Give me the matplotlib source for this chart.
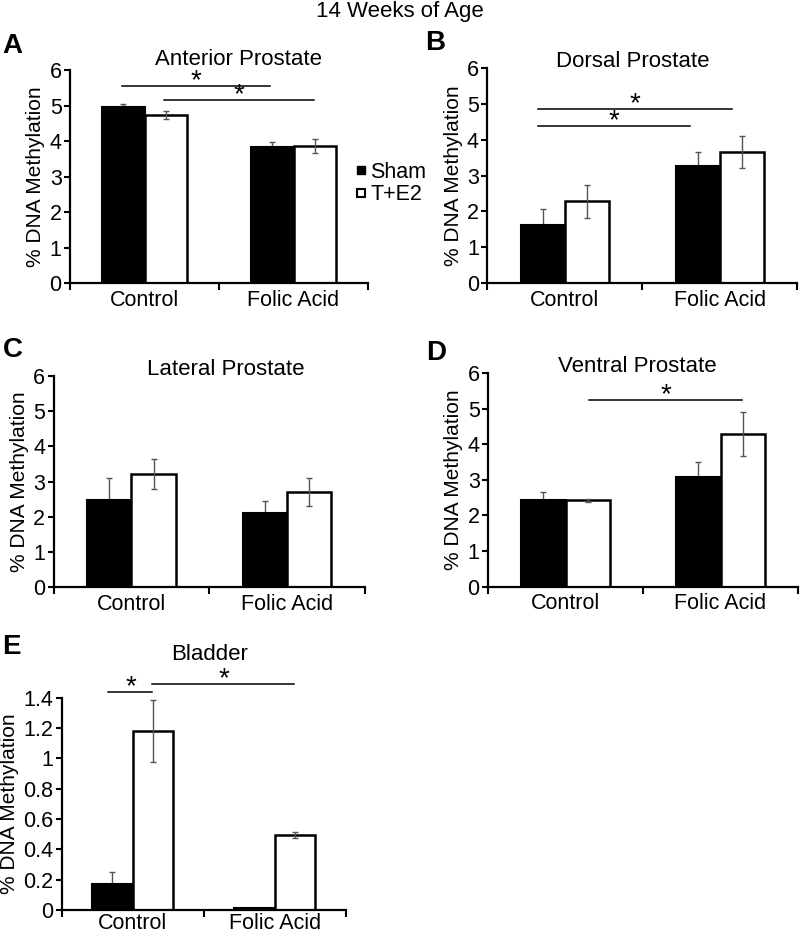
import matplotlib
matplotlib.use("Agg")
import matplotlib.pyplot as plt
from matplotlib.lines import Line2D

plt.rcParams.update({
    "font.family": ["Liberation Sans", "DejaVu Sans"],
    "font.size": 15,
})

groups = ["Control", "Folic Acid"]
series_names = ["Sham", "T+E2"]

# panel A - anterior prostate
anterior_sham = [4.97, 3.82]
anterior_sham_err = [0.07, 0.15]
anterior_te2 = [4.73, 3.86]
anterior_te2_err = [0.11, 0.19]

# panel B - dorsal prostate
dorsal_sham = [1.62, 3.28]
dorsal_sham_err = [0.44, 0.39]
dorsal_te2 = [2.28, 3.66]
dorsal_te2_err = [0.46, 0.44]

# panel C - lateral prostate
lateral_sham = [2.49, 2.11]
lateral_sham_err = [0.62, 0.33]
lateral_te2 = [3.21, 2.71]
lateral_te2_err = [0.42, 0.40]

# panel D - ventral prostate
ventral_sham = [2.42, 3.07]
ventral_sham_err = [0.23, 0.42]
ventral_te2 = [2.42, 4.29]
ventral_te2_err = [0.05, 0.63]

# panel E - bladder
bladder_sham = [0.17, 0.01]
bladder_sham_err = [0.08, 0.0]
bladder_te2 = [1.18, 0.495]
bladder_te2_err = [0.205, 0.02]

# significance bars: (x start, x end, y)
anterior_sig = [(-0.15, 0.84, 5.56), (0.13, 1.14, 5.15)]
dorsal_sig = [(-0.17, 1.08, 4.87), (-0.17, 0.81, 4.38)]
ventral_sig = [(0.15, 1.14, 5.24)]
bladder_sig = [(-0.17, 0.14, 1.435), (0.14, 1.14, 1.488)]

fig = plt.figure(figsize=(8, 9.34), dpi=100)

bar_w = 0.285
err_color = "#555555"


def draw_panel(rect, letter, letter_pos, title, title_pos, sham, sham_err,
               te2, te2_err, sig, ymax, ystep, xpad=5):
    ax = fig.add_axes(rect)
    xs = [0, 1]
    ax.bar([x - bar_w / 2 for x in xs], sham, bar_w, color="black",
           edgecolor="black", linewidth=1.5, zorder=2)
    ax.errorbar([x - bar_w / 2 for x in xs], sham, yerr=sham_err, fmt="none",
                ecolor=err_color, elinewidth=1, capsize=2.5, capthick=1, zorder=1)
    ax.bar([x + bar_w / 2 for x in xs], te2, bar_w, color="white",
           edgecolor="black", linewidth=1.8, zorder=2)
    ax.errorbar([x + bar_w / 2 for x in xs], te2, yerr=te2_err, fmt="none",
                ecolor=err_color, elinewidth=1, capsize=2.5, capthick=1, zorder=3)
    for x0, x1, y in sig:
        ax.plot([x0, x1], [y, y], color="black", lw=1.1, clip_on=False)
        ax.annotate("*", xy=((x0 + x1) / 2, y), xytext=(0, -1.5),
                    textcoords="offset points", ha="center", va="baseline",
                    fontsize=20, annotation_clip=False)
    ax.set_xlim(-0.5, 1.5)
    ax.set_ylim(0, ymax)
    ticks = [i * ystep for i in range(int(round(ymax / ystep)) + 1)]
    ax.set_yticks(ticks)
    ax.set_yticklabels([f"{t:g}" for t in ticks])
    ax.set_xticks(xs)
    ax.set_xticklabels(groups, fontsize=15.5)
    ax.set_xticks([-0.5, 0.5, 1.5], minor=True)
    ax.tick_params(axis="x", which="major", length=0, pad=xpad)
    ax.tick_params(axis="x", which="minor", length=5, width=1.5, direction="out")
    ax.tick_params(axis="y", length=4, width=1.5, direction="out", pad=2, labelsize=15.5)
    for s in ["top", "right"]:
        ax.spines[s].set_visible(False)
    for s in ["left", "bottom"]:
        ax.spines[s].set_linewidth(1.6)
    ax.set_ylabel("% DNA Methylation", fontsize=15, labelpad=3)
    ax.text(title_pos[0], title_pos[1], title, transform=ax.transAxes,
            ha="center", va="baseline", fontsize=16)
    fig.text(letter_pos[0], letter_pos[1], letter, fontsize=20,
             fontweight="bold", ha="left", va="center")
    return ax


draw_panel([0.0875, 0.697, 0.3725, 0.228], "A", (0.003, 1 - 46 / 934),
           "Anterior Prostate", (0.564, 1.025), anterior_sham, anterior_sham_err,
           anterior_te2, anterior_te2_err, anterior_sig, 6, 1)
draw_panel([0.609, 0.697, 0.3875, 0.230], "B", (0.531, 1 - 43 / 934),
           "Dorsal Prostate", (0.47, 1.005), dorsal_sham, dorsal_sham_err,
           dorsal_te2, dorsal_te2_err, dorsal_sig, 6, 1)
draw_panel([0.0670, 0.371, 0.389, 0.2267], "C", (0.003, 1 - 350 / 934),
           "Lateral Prostate", (0.552, 1.005), lateral_sham, lateral_sham_err,
           lateral_te2, lateral_te2_err, [], 6, 1)
draw_panel([0.610, 0.372, 0.3875, 0.2285], "D", (0.533, 1 - 353 / 934),
           "Ventral Prostate", (0.483, 1.005), ventral_sham, ventral_sham_err,
           ventral_te2, ventral_te2_err, ventral_sig, 6, 1)
draw_panel([0.077, 0.0257, 0.355, 0.2273], "E", (0.003, 1 - 647 / 934),
           "Bladder", (0.522, 1.178), bladder_sham, bladder_sham_err,
           bladder_te2, bladder_te2_err, bladder_sig, 1.4, 0.2, xpad=2.5)

fig.text(0.5, 1 - 12 / 934, "14 Weeks of Age", ha="center", va="center", fontsize=16)

handles = [
    Line2D([], [], marker="s", ls="none", markersize=5.5, markerfacecolor="black",
           markeredgecolor="black"),
    Line2D([], [], marker="s", ls="none", markersize=5.5, markerfacecolor="white",
           markeredgecolor="black", markeredgewidth=1.5),
]
fig.legend(handles, series_names, loc="upper left", bbox_to_anchor=(0.443, 1 - 162 / 934),
           frameon=False, handlelength=0.6, handletextpad=0.15, labelspacing=0.05,
           borderaxespad=0, borderpad=0, fontsize=15.5)

fig.savefig("out.png", dpi=100)
